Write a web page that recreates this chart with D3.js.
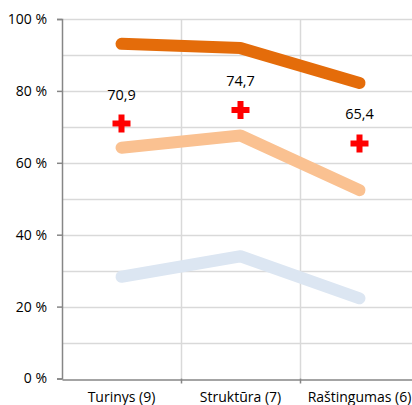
<!DOCTYPE html>
<html>
  <head>
    <meta charset="utf-8"/>
    <style>
body {
  margin: 0;
  background: #fff;
  overflow: hidden;
}
svg {
  display: block;
  font-family: "Open Sans", sans-serif;
}
    </style>
  </head>
  <body>
    <svg id="chart" width="412" height="405"></svg>
    <script src="https://cdnjs.cloudflare.com/ajax/libs/d3/7.8.5/d3.min.js"></script>
    <script>
const categories = ["Turinys (9)", "Struktūra (7)", "Raštingumas (6)"];
const topSeries = [93.1, 91.9, 82.2];
const midSeries = [64.2, 67.6, 52.4];
const lowSeries = [28.3, 34.0, 22.3];
const meanValues = [70.9, 74.7, 65.4];
const meanLabels = ["70,9", "74,7", "65,4"];
const yTicks = [0, 20, 40, 60, 80, 100];

const margin = { left: 62, top: 19, right: -7, bottom: 27 };
const width = 412, height = 405;

const svg = d3.select("#chart");

const x = d3.scaleBand()
    .domain(categories)
    .range([margin.left, width - margin.right]);
const y = d3.scaleLinear()
    .domain([0, 100])
    .range([height - margin.bottom + 0.5, margin.top]);

// gridlines
svg.append("g")
  .selectAll("line")
  .data(d3.range(10, 101, 10))
  .join("line")
    .attr("x1", margin.left)
    .attr("x2", width)
    .attr("y1", d => Math.round(y(d)) + 0.5)
    .attr("y2", d => Math.round(y(d)) + 0.5)
    .attr("stroke", "#d9d9d9")
    .attr("stroke-width", 1.5);

svg.append("g")
  .selectAll("line")
  .data(categories.slice(1))
  .join("line")
    .attr("x1", d => Math.round(x(d)) + 0.5)
    .attr("x2", d => Math.round(x(d)) + 0.5)
    .attr("y1", y(100))
    .attr("y2", y(0))
    .attr("stroke", "#d9d9d9")
    .attr("stroke-width", 1.5);

// axes
const yAxis = svg.append("g")
    .attr("transform", `translate(${margin.left},0)`)
    .call(d3.axisLeft(y).tickValues(yTicks).tickSize(5).tickFormat(d => d + " %"));
yAxis.select(".domain").attr("stroke", "#868686").attr("stroke-width", 1.5);
yAxis.selectAll(".tick line").attr("stroke", "#868686").attr("stroke-width", 1.5);
yAxis.selectAll(".tick text")
    .attr("x", -15)
    .attr("font-size", 14)
    .attr("fill", "#000")
    .attr("font-family", "Open Sans, sans-serif");

const xAxis = svg.append("g")
    .attr("transform", `translate(0,${Math.round(y(0)) + 0.5})`)
    .call(d3.axisBottom(x).tickSize(0));
xAxis.select(".domain").attr("stroke", "#868686").attr("stroke-width", 1.5);
xAxis.selectAll(".tick text")
    .attr("dy", 0)
    .attr("y", 22)
    .attr("font-size", 14)
    .attr("fill", "#000")
    .attr("font-family", "Open Sans, sans-serif");
// small tick marks at category boundaries
svg.append("g")
  .selectAll("line")
  .data(categories.slice(1))
  .join("line")
    .attr("x1", d => Math.round(x(d)) + 0.5)
    .attr("x2", d => Math.round(x(d)) + 0.5)
    .attr("y1", y(0))
    .attr("y2", y(0) + 5)
    .attr("stroke", "#868686")
    .attr("stroke-width", 1.5);

const cx = d => x(d) + x.bandwidth() / 2;
const line = d3.line()
    .x((d, i) => cx(categories[i]))
    .y(d => y(d));

[[lowSeries, "#dce6f2"], [midSeries, "#fac191"], [topSeries, "#e46c0a"]].forEach(([vals, col]) => {
  svg.append("path")
      .datum(vals)
      .attr("d", line)
      .attr("fill", "none")
      .attr("stroke", col)
      .attr("stroke-width", 12)
      .attr("stroke-linecap", "round")
      .attr("stroke-linejoin", "round");
});

// mean markers
const cross = d3.symbol().type(d3.symbolCross).size(180);
svg.append("g")
  .selectAll("path")
  .data(meanValues)
  .join("path")
    .attr("transform", (d, i) => `translate(${cx(categories[i])},${y(d)})`)
    .attr("d", cross)
    .attr("fill", "#ff0000");

svg.append("g")
  .selectAll("text")
  .data(meanValues)
  .join("text")
    .attr("x", (d, i) => cx(categories[i]))
    .attr("y", d => y(d) - 24)
    .attr("text-anchor", "middle")
    .attr("font-size", 14.5)
    .attr("fill", "#000")
    .text((d, i) => meanLabels[i]);
    </script>
  </body>
</html>
